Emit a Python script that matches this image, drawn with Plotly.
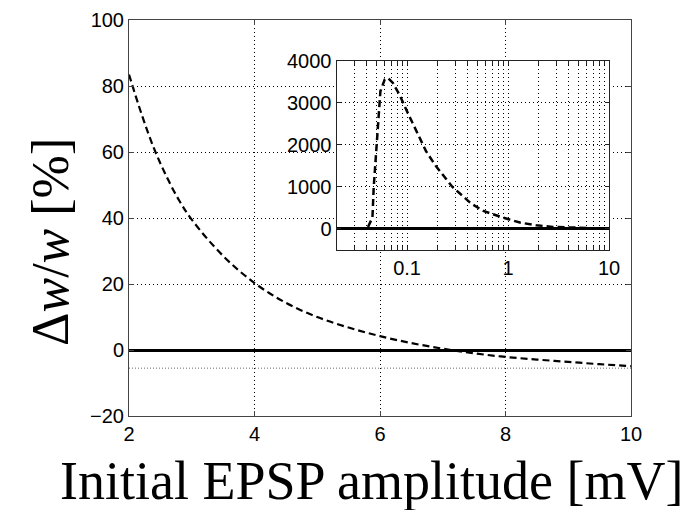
import plotly.graph_objects as go

W, H = 689, 510

# ---- main panel data ----
epsp_mv = [2, 2.2, 2.4, 2.6, 2.8, 3, 3.5, 4, 4.5, 5, 5.5, 6, 6.5, 7, 7.5, 8, 8.5, 9, 9.5, 10]
dw_pct = [83.5, 71.5, 61.0, 52.5, 45.3, 39.5, 28.5, 20.3, 14.3, 10.0, 6.8, 4.2, 2.1, 0.4,
          -1.0, -2.1, -2.9, -3.6, -4.3, -4.9]
ref_x = [2, 10]
ref_level = [-5.5, -5.5]
main_xticks = [2, 4, 6, 8, 10]
main_yticks = [-20, 0, 20, 40, 60, 80, 100]

# ---- inset data ----
inset_mv = [0.041, 0.0454, 0.0467, 0.049, 0.0516, 0.0544, 0.060, 0.0646, 0.0724, 0.084,
            0.098, 0.123, 0.154, 0.193, 0.28, 0.43, 0.57, 0.83, 1.31, 1.9, 2.78, 4.36, 7, 10]
inset_pct = [38, 262, 976, 1769, 2562, 3276, 3555, 3595, 3476, 3198, 2840, 2324, 1848, 1490,
             1000, 600, 420, 286, 143, 79, 40, 25, 5, -5]
inset_ytick = [0, 1000, 2000, 3000, 4000]
inset_xtick = [m * d for d in (0.01, 0.1, 1) for m in range(2, 10)] + [0.1, 1, 10]
inset_xtick = sorted(set(round(v, 4) for v in inset_xtick))
inset_xlabel = {0.1: "0.1", 1: "1", 10: "10"}

fig = go.Figure()

fig.add_trace(go.Scatter(x=ref_x, y=ref_level, mode="lines",
                         line=dict(color="#9a9a9a", width=1.5, dash="1px,2px"),
                         xaxis="x", yaxis="y", hoverinfo="skip"))
fig.add_trace(go.Scatter(x=epsp_mv, y=dw_pct, mode="lines", line_shape="spline",
                         line=dict(color="black", width=2.2, dash="7px,4px"),
                         xaxis="x", yaxis="y", hoverinfo="skip"))
fig.add_trace(go.Scatter(x=inset_mv, y=inset_pct, mode="lines",
                         line=dict(color="black", width=2.5, dash="7px,4px"),
                         xaxis="x2", yaxis="y2", hoverinfo="skip"))

grid_common = dict(showgrid=True, gridcolor="black", gridwidth=1, griddash="1px,3px",
                   showline=True, mirror="ticks", ticks="inside", ticklen=5,
                   tickfont=dict(family="Liberation Sans, Arial, sans-serif", size=20, color="black"))

fig.update_layout(
    width=W, height=H, margin=dict(l=0, r=0, t=0, b=0, autoexpand=False),
    paper_bgcolor="white", plot_bgcolor="white", showlegend=False,
    xaxis=dict(domain=[129 / W, 631 / W], range=[2, 10], tickvals=main_xticks,
               linecolor="#444", tickcolor="#444", zeroline=False, automargin=False, **grid_common),
    yaxis=dict(domain=[1 - 416 / H, 1 - 20 / H], range=[-20, 100], tickvals=main_yticks,
               linecolor="#444", tickcolor="#444", zeroline=True, zerolinecolor="black",
               zerolinewidth=3, automargin=False, **grid_common),
    xaxis2=dict(domain=[336.5 / W, 609 / W], anchor="y2", type="log",
                range=[-1.69897, 1], tickvals=inset_xtick,
                ticktext=[inset_xlabel.get(v, "") for v in inset_xtick],
                linecolor="#222", tickcolor="#222", ticklen=4, automargin=False,
                showgrid=True, gridcolor="black", gridwidth=1, griddash="1px,3px",
                showline=True, mirror="ticks", ticks="inside",
                tickfont=dict(family="Liberation Sans, Arial, sans-serif", size=20, color="black")),
    yaxis2=dict(domain=[1 - 249.5 / H, 1 - 61 / H], anchor="x2", range=[-500, 4000],
                tickvals=inset_ytick, linecolor="#222", tickcolor="#222", ticklen=4,
                zeroline=True, zerolinecolor="black", zerolinewidth=3, automargin=False,
                showgrid=True, gridcolor="black", gridwidth=1, griddash="1px,3px",
                showline=True, mirror="ticks", ticks="inside",
                tickfont=dict(family="Liberation Sans, Arial, sans-serif", size=20, color="black")),
    annotations=[
        dict(text="Initial EPSP amplitude [mV]", xref="paper", yref="paper",
             x=371 / W, y=1 - 481 / H, xanchor="center", yanchor="middle", showarrow=False,
             font=dict(family="Liberation Serif, Times New Roman, serif", size=54, color="black")),
        dict(text="Δ<i>w</i>/<i>w</i> [%]", xref="paper", yref="paper",
             x=50 / W, y=1 - 242 / H, xanchor="center", yanchor="middle", showarrow=False,
             textangle=-90,
             font=dict(family="Liberation Serif, Times New Roman, serif", size=52, color="black")),
    ],
)

fig.write_html("out.html", config={"displayModeBar": False})
